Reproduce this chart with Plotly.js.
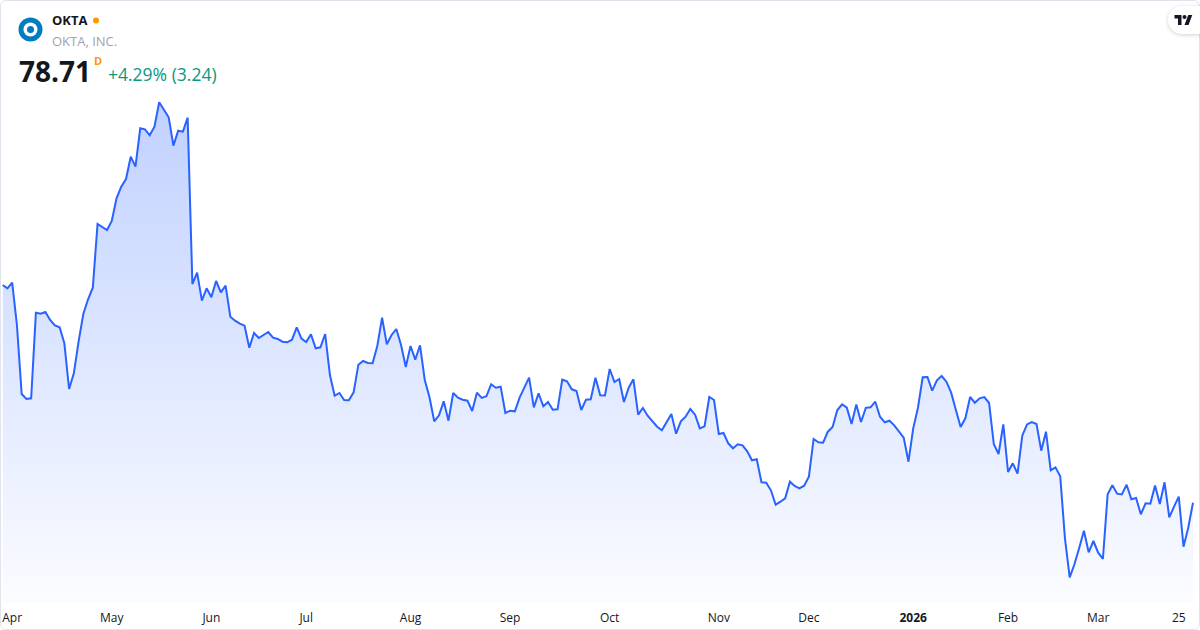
<!DOCTYPE html>
<html>
<head>
<meta charset="utf-8">
<script src="https://cdn.plot.ly/plotly-3.0.1.min.js"></script>
<style>
  html, body { margin: 0; padding: 0; background: #ffffff; overflow: hidden; }
  #wrap { position: relative; width: 1200px; height: 630px; }
  #chart { position: absolute; left: 0; top: 0; width: 1200px; height: 630px; }
  #frame { position: absolute; left: 0; top: 0; width: 1198px; height: 628px; border: 1px solid #e0e3eb; border-radius: 6px; pointer-events: none; }
  #tv { position: absolute; left: 1168px; top: 6px; width: 44px; height: 28px; background: #fff; border-radius: 14px; box-shadow: 0 1px 4px rgba(0,0,0,0.18); }
  #tv svg { position: absolute; left: 6px; top: 8px; }
</style>
</head>
<body>
<div id="wrap">
  <div id="chart"></div>
  <div id="frame"></div>
  <div id="tv"><svg width="19" height="12" viewBox="0 0 36 24"><path d="M14 22H7V9H0V2h14v20zM28 22h-8l7.5-20h8L28 22z" fill="#131722"/><circle cx="20" cy="6" r="4" fill="#131722"/></svg></div>
</div>
<script>
// Trading days (day-of-month) per month
const monthKeys = ["2025-03","2025-04","2025-05","2025-06","2025-07","2025-08","2025-09","2025-10","2025-11","2025-12","2026-01","2026-02","2026-03"];
const monthDays = [
  [28,31],
  [1,2,3,4,7,8,9,10,11,14,15,16,17,21,22,23,24,25,28,29,30],
  [1,2,5,6,7,8,9,12,13,14,15,16,19,20,21,22,23,27,28,29,30],
  [2,3,4,5,6,9,10,11,12,13,16,17,18,20,23,24,25,26,27,30],
  [1,2,3,7,8,9,10,11,14,15,16,17,18,21,22,23,24,25,28,29,30,31],
  [1,4,5,6,7,8,11,12,13,14,15,18,19,20,21,22,25,26,27,28,29],
  [2,3,4,5,8,9,10,11,12,15,16,17,18,19,22,23,24,25,26,29,30],
  [1,2,3,6,7,8,9,10,13,14,15,16,17,20,21,22,23,24,27,28,29,30,31],
  [3,4,5,6,7,10,11,12,13,14,17,18,19,20,21,24,25,26,28],
  [1,2,3,4,5,8,9,10,11,12,15,16,17,18,19,22,23,24,26,29,30,31],
  [2,5,6,7,8,9,12,13,14,15,16,20,21,22,23,26,27,28,29,30],
  [2,3,4,5,6,9,10,11,12,13,17,18,19,20,23,24,25,26,27],
  [2,3,4,5,6,9,10,11,12,13,16,17,18,19,20,23,24,25,26,27,30]
];

// Daily close (USD)
const closes = [
  107.01,106.58,107.31,101.81,92.84,92.19,92.28,103.41,103.28,103.50,
  102.46,101.77,101.51,99.43,93.49,95.53,99.64,103.24,105.15,106.66,
  114.94,114.59,114.16,115.33,118.28,119.79,120.79,123.69,122.39,127.38,
  127.25,126.47,127.59,130.76,129.85,128.81,125.12,127.07,126.94,128.76,
  107.14,108.61,104.97,106.58,105.41,107.53,106.06,106.92,102.89,102.37,
  101.98,101.72,98.86,100.77,100.12,100.47,100.90,100.16,99.99,99.64,
  99.56,99.90,101.51,100.03,99.60,100.60,98.78,98.91,100.64,95.31,
  92.62,92.97,92.06,92.02,93.06,96.65,97.13,96.87,96.85,99.12,
  102.76,99.30,100.51,101.29,99.21,96.35,99.08,97.30,99.17,94.66,
  92.41,89.29,90.07,91.89,89.37,92.97,92.36,92.10,91.97,90.63,
  93.01,92.34,92.54,94.10,93.66,93.79,90.37,90.67,90.59,92.36,
  93.71,94.96,91.11,92.93,91.24,91.80,90.80,90.85,94.70,94.49,
  93.45,93.23,90.76,92.10,92.15,94.96,92.67,92.64,96.09,94.40,
  94.79,91.80,93.66,94.75,90.15,91.02,90.02,89.24,88.59,88.12,
  89.11,90.24,87.68,89.29,89.89,90.89,90.15,88.38,88.64,92.45,
  92.06,87.64,87.77,86.43,85.78,86.30,86.17,85.39,84.22,84.35,
  81.36,81.31,80.32,78.45,78.84,79.28,81.44,80.88,80.58,80.92,
  82.09,86.99,86.56,86.51,87.94,88.55,90.76,91.50,91.06,88.94,
  91.48,89.20,91.04,91.11,91.84,89.89,89.16,89.37,88.77,88.03,
  87.16,84.04,88.38,91.06,95.01,95.05,93.27,94.62,95.18,94.44,
  93.01,90.76,88.55,89.68,92.45,91.71,92.28,92.43,91.67,86.30,
  85.04,88.90,82.70,83.83,82.48,87.42,88.88,89.20,88.94,85.47,
  87.94,82.92,83.31,82.14,74.08,69.01,70.70,72.82,75.07,72.26,
  73.73,72.21,71.39,79.80,80.97,79.88,79.78,81.05,79.15,79.32,
  77.20,78.63,78.58,80.95,78.54,81.36,76.81,78.19,79.49,72.99,
  75.47,78.71
];

const tickDates = ["2025-04-01","2025-05-01","2025-06-02","2025-07-01","2025-08-01","2025-09-02","2025-10-01","2025-11-03","2025-12-01","2026-01-02","2026-02-02","2026-03-02","2026-03-25"];
const tickLabels = ["Apr","May","Jun","Jul","Aug","Sep","Oct","Nov","Dec","<b>2026</b>","Feb","Mar","25"];

const symbol = "OKTA";
const company = "OKTA, INC.";
const lastPrice = "78.71";
const changeText = "+4.29% (3.24)";

// build date categories
const dates = [];
monthKeys.forEach((mk, i) => {
  monthDays[i].forEach(d => dates.push(mk + "-" + String(d).padStart(2, "0")));
});

const W = 1200, H = 603; // plot area size in px
const px = x => x / W;
const py = y => (H - y) / H;

const yMin = 65.67, yMax = 144.06;
const priceMax = Math.max(...closes);

const trace = {
  type: "scatter",
  mode: "lines",
  x: dates,
  y: closes,
  line: { color: "#2962ff", width: 2 },
  fill: "tozeroy",
  fillgradient: {
    type: "vertical",
    start: yMin,
    stop: priceMax,
    colorscale: [[0, "rgba(41,98,255,0.02)"], [1, "rgba(41,98,255,0.29)"]]
  },
  hoverinfo: "skip"
};

const FONT = "'Open Sans', 'Noto Sans', sans-serif";

const layout = {
  width: 1200,
  height: 630,
  margin: { l: 0, r: 0, t: 0, b: 630 - H, pad: 0 },
  paper_bgcolor: "#ffffff",
  plot_bgcolor: "#ffffff",
  showlegend: false,
  font: { family: FONT, color: "#131722" },
  xaxis: {
    type: "category",
    range: [-0.57, dates.length - 0.57 + (1200 - 1193) / 4.742 - 0.43],
    showgrid: false,
    zeroline: false,
    showline: false,
    ticks: "",
    tickmode: "array",
    tickvals: tickDates,
    ticktext: tickLabels,
    tickfont: { family: FONT, size: 12, color: "#131722" },
    ticklabelstandoff: 6,
    fixedrange: true
  },
  yaxis: {
    range: [yMin, yMax],
    visible: false,
    showgrid: false,
    zeroline: false,
    fixedrange: true
  },
  shapes: [
    // logo
    { type: "circle", xref: "paper", yref: "paper", xsizemode: "pixel", ysizemode: "pixel",
      xanchor: px(30.5), yanchor: py(29.5), x0: -12, x1: 12, y0: -12, y1: 12,
      fillcolor: "#007dc1", line: { width: 0 } },
    { type: "circle", xref: "paper", yref: "paper", xsizemode: "pixel", ysizemode: "pixel",
      xanchor: px(30.5), yanchor: py(29.5), x0: -7, x1: 7, y0: -7, y1: 7,
      fillcolor: "#ffffff", line: { width: 0 } },
    { type: "circle", xref: "paper", yref: "paper", xsizemode: "pixel", ysizemode: "pixel",
      xanchor: px(30.5), yanchor: py(29.5), x0: -3.5, x1: 3.5, y0: -3.5, y1: 3.5,
      fillcolor: "#007dc1", line: { width: 0 } },
    // market status dot
    { type: "circle", xref: "paper", yref: "paper", xsizemode: "pixel", ysizemode: "pixel",
      xanchor: px(96), yanchor: py(20.5), x0: -3, x1: 3, y0: -3, y1: 3,
      fillcolor: "#ff9800", line: { width: 0 } }
  ],
  annotations: [
    { text: symbol, xref: "paper", yref: "paper", x: px(50), y: py(20), xanchor: "left", yanchor: "middle",
      showarrow: false, font: { family: FONT, size: 13, weight: 700, color: "#131722" } },
    { text: company, xref: "paper", yref: "paper", x: px(50), y: py(41), xanchor: "left", yanchor: "middle",
      showarrow: false, font: { family: FONT, size: 13, color: "#a0a3ab" } },
    { text: lastPrice, xref: "paper", yref: "paper", x: px(17), y: py(71), xanchor: "left", yanchor: "middle",
      showarrow: false, font: { family: FONT, size: 28, weight: 700, color: "#131722" } },
    { text: "D", xref: "paper", yref: "paper", x: px(92), y: py(61), xanchor: "left", yanchor: "middle",
      showarrow: false, font: { family: FONT, size: 11, weight: 700, color: "#ff9800" } },
    { text: changeText, xref: "paper", yref: "paper", x: px(106), y: py(74), xanchor: "left", yanchor: "middle",
      showarrow: false, font: { family: FONT, size: 17.5, color: "#089981" } }
  ]
};

Plotly.newPlot("chart", [trace], layout, { staticPlot: true, displayModeBar: false });
</script>
</body>
</html>
